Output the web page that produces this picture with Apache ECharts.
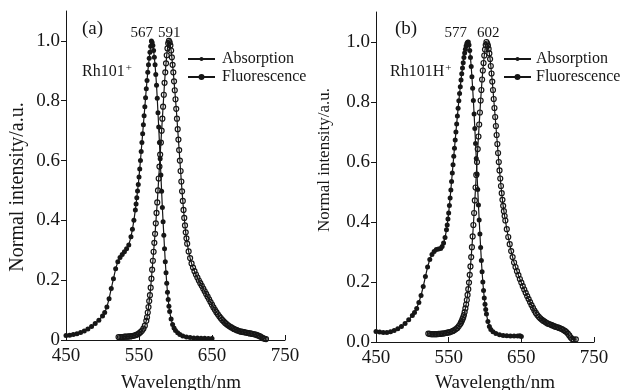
<!DOCTYPE html>
<html>
<head>
<meta charset="utf-8">
<script src="https://cdn.jsdelivr.net/npm/echarts@6/dist/echarts.min.js"></script>
<style>
  html, body { margin: 0; padding: 0; background: #fff; }
  #main { width: 621px; height: 390px; }
</style>
</head>
<body>
<div id="main"></div>
<script>
// spectra: [wavelength nm, normalised intensity]
var absorptionA = [
  [450,0.015],[455,0.016],[460,0.018],[465,0.021],[470,0.025],[475,0.030],[480,0.037],[485,0.045],[490,0.055],[495,0.066],
  [500,0.080],[503,0.092],[506,0.110],[509,0.138],[512,0.172],[515,0.205],[518,0.238],[521,0.262],[524,0.276],[527,0.286],
  [530,0.295],[533,0.305],[536,0.318],[539,0.345],[541,0.370],[543,0.400],[545,0.435],[546,0.455],[547,0.476],[548,0.498],
  [549,0.520],[550,0.545],[551,0.572],[552,0.600],[553,0.630],[554,0.660],[555,0.690],[556,0.720],[557,0.750],[558,0.780],
  [559,0.810],[560,0.840],[561,0.868],[562,0.895],[563,0.920],[564,0.942],[565,0.962],[566,0.982],[567,1.000],[568,0.995],
  [569,0.985],[570,0.968],[571,0.945],[572,0.920],[573,0.888],[574,0.852],[575,0.808],[576,0.760],[577,0.712],[578,0.660],
  [579,0.606],[580,0.552],[581,0.497],[582,0.443],[583,0.395],[584,0.350],[585,0.305],[586,0.262],[587,0.225],[588,0.190],
  [589,0.160],[590,0.135],[591,0.113],[592,0.095],[594,0.070],[596,0.052],[598,0.040],[600,0.032],[603,0.024],[606,0.018],
  [610,0.013],[615,0.010],[620,0.008],[625,0.007],[630,0.007],[635,0.006],[640,0.006],[645,0.005],[650,0.005]
];
var fluorescenceA = [
  [522,0.010],[524,0.010],[526,0.010],[528,0.010],[530,0.011],[532,0.011],[534,0.011],[536,0.012],[538,0.012],[540,0.013],
  [542,0.014],[544,0.015],[546,0.017],[548,0.019],[550,0.022],[552,0.026],[554,0.031],[556,0.038],[558,0.048],[560,0.064],
  [561,0.076],[562,0.092],[563,0.110],[564,0.130],[565,0.150],[566,0.175],[567,0.205],[568,0.235],[569,0.265],[570,0.295],
  [571,0.325],[572,0.355],[573,0.390],[574,0.425],[575,0.460],[576,0.500],[577,0.540],[578,0.580],[579,0.620],[580,0.660],
  [581,0.700],[582,0.740],[583,0.780],[584,0.820],[585,0.860],[586,0.895],[587,0.925],[588,0.952],[589,0.975],[590,0.992],
  [591,1.000],[592,0.995],[593,0.985],[594,0.968],[595,0.945],[596,0.920],[597,0.895],[598,0.865],[599,0.835],[600,0.805],
  [601,0.773],[602,0.740],[603,0.705],[604,0.670],[605,0.635],[606,0.600],[607,0.565],[608,0.530],[609,0.497],[610,0.465],
  [611,0.435],[612,0.408],[613,0.383],[614,0.360],[615,0.340],[616,0.322],[618,0.296],[620,0.274],[622,0.256],[624,0.242],
  [626,0.230],[628,0.219],[630,0.209],[632,0.199],[634,0.190],[636,0.181],[638,0.172],[640,0.163],[642,0.154],[644,0.145],
  [646,0.136],[648,0.127],[650,0.118],[652,0.109],[654,0.101],[656,0.093],[658,0.086],[660,0.079],[662,0.073],[664,0.067],
  [666,0.062],[668,0.057],[670,0.053],[672,0.049],[674,0.046],[676,0.043],[678,0.040],[680,0.037],[682,0.035],[684,0.033],
  [686,0.031],[688,0.029],[690,0.028],[692,0.027],[694,0.026],[696,0.025],[698,0.024],[700,0.023],[702,0.022],[704,0.021],
  [706,0.020],[708,0.019],[710,0.018],[712,0.016],[714,0.014],[716,0.012],[718,0.009],[720,0.006],[722,0.004],[724,0.003]
];
var absorptionB = [
  [450,0.035],[455,0.033],[460,0.032],[465,0.032],[470,0.034],[475,0.038],[480,0.044],[485,0.052],[490,0.062],[495,0.074],
  [500,0.088],[503,0.098],[506,0.112],[509,0.132],[512,0.155],[515,0.185],[518,0.218],[521,0.250],[524,0.275],[527,0.292],
  [530,0.302],[533,0.308],[536,0.310],[539,0.312],[541,0.318],[543,0.330],[545,0.348],[547,0.374],[548,0.390],[549,0.410],
  [550,0.430],[551,0.455],[552,0.480],[553,0.507],[554,0.535],[555,0.563],[556,0.591],[557,0.619],[558,0.646],[559,0.673],
  [560,0.700],[561,0.727],[562,0.753],[563,0.779],[564,0.804],[565,0.828],[566,0.851],[567,0.873],[568,0.894],[569,0.913],
  [570,0.931],[571,0.948],[572,0.963],[573,0.976],[574,0.987],[575,0.995],[576,0.999],[577,1.000],[578,0.990],[579,0.972],
  [580,0.948],[581,0.918],[582,0.884],[583,0.846],[584,0.805],[585,0.760],[586,0.712],[587,0.662],[588,0.612],[589,0.560],
  [590,0.508],[591,0.457],[592,0.407],[593,0.360],[594,0.315],[595,0.272],[596,0.234],[597,0.200],[598,0.172],[599,0.147],
  [600,0.126],[601,0.108],[602,0.093],[604,0.068],[606,0.052],[608,0.042],[611,0.034],[615,0.028],[620,0.024],[625,0.022],
  [630,0.021],[635,0.020],[640,0.020],[645,0.020],[648,0.021],[650,0.018]
];
var fluorescenceB = [
  [522,0.028],[524,0.027],[526,0.026],[528,0.026],[530,0.026],[532,0.026],[534,0.026],[536,0.027],[538,0.027],[540,0.028],
  [542,0.028],[544,0.029],[546,0.030],[548,0.031],[550,0.032],[552,0.033],[554,0.035],[556,0.037],[558,0.040],[560,0.043],
  [562,0.047],[564,0.053],[566,0.060],[567,0.065],[568,0.070],[569,0.076],[570,0.082],[571,0.090],[572,0.100],[573,0.112],
  [574,0.125],[575,0.140],[576,0.157],[577,0.176],[578,0.198],[579,0.224],[580,0.252],[581,0.283],[582,0.316],[583,0.352],
  [584,0.390],[585,0.430],[586,0.472],[587,0.515],[588,0.557],[589,0.600],[590,0.643],[591,0.685],[592,0.725],[593,0.765],
  [594,0.805],[595,0.840],[596,0.875],[597,0.905],[598,0.930],[599,0.955],[600,0.975],[601,0.990],[602,1.000],[603,0.995],
  [604,0.988],[605,0.977],[606,0.962],[607,0.943],[608,0.920],[609,0.895],[610,0.868],[611,0.840],[612,0.810],[613,0.780],
  [614,0.750],[615,0.720],[616,0.690],[617,0.660],[618,0.630],[619,0.600],[620,0.572],[621,0.545],[622,0.520],[623,0.496],
  [624,0.474],[625,0.454],[626,0.436],[627,0.420],[628,0.405],[630,0.376],[632,0.350],[634,0.326],[636,0.303],[638,0.283],
  [640,0.265],[642,0.250],[644,0.236],[646,0.223],[648,0.210],[650,0.198],[652,0.186],[654,0.175],[656,0.164],[658,0.153],
  [660,0.143],[662,0.133],[664,0.123],[666,0.114],[668,0.105],[670,0.097],[672,0.090],[674,0.084],[676,0.079],[678,0.075],
  [680,0.071],[682,0.068],[684,0.065],[686,0.062],[688,0.060],[690,0.058],[692,0.056],[694,0.054],[696,0.052],[698,0.050],
  [700,0.049],[702,0.047],[704,0.045],[706,0.043],[708,0.040],[710,0.037],[712,0.033],[714,0.028],[716,0.022],[718,0.015],
  [720,0.010],[722,0.008],[725,0.009]
];
var seriesNames = ['Absorption', 'Fluorescence'];
var xTicks = [450, 550, 650, 750];
var yTicks = [0, 0.2, 0.4, 0.6, 0.8, 1.0];
var peaksA = ['567', '591'];
var peaksB = ['577', '602'];

var FONT = '"Liberation Serif","Times New Roman",serif';
var INK = '#161616';

function xAxisOf(gi) {
  return {
    type: 'value', gridIndex: gi, min: 450, max: 750, interval: 100,
    axisLine: {lineStyle: {color: INK, width: 1}},
    axisTick: {inside: true, length: 5, lineStyle: {color: INK}, customValues: xTicks},
    axisLabel: {color: INK, fontFamily: FONT, fontSize: 19, margin: 7, customValues: xTicks},
    splitLine: {show: false}
  };
}
function yAxisOf(gi, zeroText) {
  return {
    type: 'value', gridIndex: gi, min: 0, max: 1.1,
    axisLine: {show: true, lineStyle: {color: INK, width: 1}},
    axisTick: {show: true, length: 5, lineStyle: {color: INK}, customValues: yTicks},
    axisLabel: {
      color: INK, fontFamily: FONT, fontSize: 19, margin: 6, customValues: yTicks,
      formatter: function (v) { return v === 0 ? zeroText : v.toFixed(1); }
    },
    splitLine: {show: false}
  };
}
function absSeries(data, i) {
  return {
    name: seriesNames[0], type: 'line', xAxisIndex: i, yAxisIndex: i, data: data,
    symbol: 'circle', symbolSize: 5,
    itemStyle: {color: INK},
    lineStyle: {color: INK, width: 1.2},
    emphasis: {disabled: true}, z: 3
  };
}
function fluSeries(data, i) {
  return {
    name: seriesNames[1], type: 'line', xAxisIndex: i, yAxisIndex: i, data: data,
    symbol: 'circle', symbolSize: 5,
    itemStyle: {color: 'rgba(255,255,255,0)', borderColor: INK, borderWidth: 1.2},
    lineStyle: {color: INK, width: 1.2},
    emphasis: {disabled: true}, z: 2
  };
}
function legendAt(left, padLeft) {
  return {
    left: left, top: 46, orient: 'vertical', itemWidth: 27, itemHeight: 5, itemGap: 2,
    selectedMode: false, data: seriesNames,
    textStyle: {fontFamily: FONT, fontSize: 16, color: INK, lineHeight: 16, padding: [0, 0, 0, padLeft]}
  };
}
function txt(x, y, s, size, align, extra) {
  var el = {
    type: 'text', x: x, y: y, silent: true,
    style: {text: s, font: size + 'px ' + FONT, fill: INK, textAlign: align || 'left', textVerticalAlign: 'middle'}
  };
  if (extra) { for (var k in extra) el[k] = extra[k]; }
  return el;
}
function ionLabel(x, y, base) {
  return {
    type: 'text', x: x, y: y, silent: true,
    style: {
      text: '{m|' + base + '}{s|+}', textAlign: 'left', textVerticalAlign: 'middle', fill: INK,
      rich: {
        m: {fontFamily: FONT, fontSize: 16, color: INK, lineHeight: 18},
        s: {fontFamily: FONT, fontSize: 11, color: INK, verticalAlign: 'top', lineHeight: 18, padding: [0, 0, 6, 1]}
      }
    }
  };
}

var chart = echarts.init(document.getElementById('main'), null, {renderer: 'canvas'});
chart.setOption({
  animation: false,
  backgroundColor: '#fff',
  grid: [
    {left: 66, top: 11, width: 219, height: 329},
    {left: 376, top: 12, width: 218, height: 330}
  ],
  xAxis: [xAxisOf(0), xAxisOf(1)],
  yAxis: [yAxisOf(0, '0'), yAxisOf(1, '0.0')],
  legend: [legendAt(182, 2), legendAt(498, 0)],
  series: [
    absSeries(absorptionA, 0), fluSeries(fluorescenceA, 0),
    absSeries(absorptionB, 1), fluSeries(fluorescenceB, 1)
  ],
  graphic: [
    txt(82, 29, '(a)', 19),
    ionLabel(82, 72, 'Rh101'),
    txt(153, 33, peaksA[0], 15, 'right'),
    txt(158, 33, peaksA[1], 15, 'left'),
    txt(18, 187, 'Normal intensity/a.u.', 20, 'center', {rotation: Math.PI / 2}),
    txt(181, 383, 'Wavelength/nm', 19, 'center'),
    txt(395, 29, '(b)', 19),
    ionLabel(390, 72, 'Rh101H'),
    txt(467, 33, peaksB[0], 15, 'right'),
    txt(477, 33, peaksB[1], 15, 'left'),
    txt(325, 160, 'Normal intensity/a.u.', 17, 'center', {rotation: Math.PI / 2}),
    txt(495, 383, 'Wavelength/nm', 19, 'center')
  ]
});
</script>
</body>
</html>
